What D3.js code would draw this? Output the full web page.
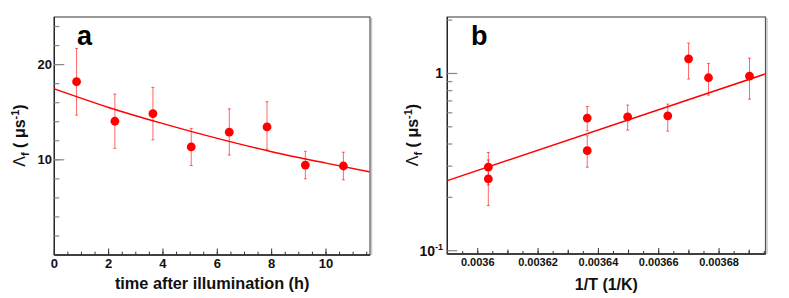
<!DOCTYPE html>
<html>
<head>
<meta charset="utf-8">
<script src="https://cdn.jsdelivr.net/npm/d3@7"></script>
<style>
  body { margin: 0; background: #fff; }
  svg { display: block; font-family: "Liberation Sans", Arial, sans-serif; }
</style>
</head>
<body>
<svg id="chart" width="789" height="298"></svg>
<script>
// panel a : decay after illumination
const timeA  = [0.82, 2.23, 3.63, 5.04, 6.44, 7.83, 9.24, 10.64];
const rateA  = [18.2, 14.05, 14.85, 11.35, 12.9, 13.45, 9.45, 9.35];
const hiA    = [21.7, 16.9, 17.6, 13.3, 15.35, 16.1, 10.9, 10.8];
const loA    = [14.7, 11.2, 12.1, 9.4, 10.5, 11.1, 8.0, 7.9];
const fitAX  = [0, 2, 4, 6, 8, 10, 11.6];
const fitAY  = [17.45, 15.5, 13.8, 12.25, 10.85, 9.65, 8.75];
const xTicksA = [0, 2, 4, 6, 8, 10];
const yTicksA = [10, 20];

// panel b : temperature dependence
const invT   = [0.0036035, 0.0036035, 0.0036363, 0.0036363, 0.0036497, 0.003663, 0.0036699, 0.0036765, 0.0036901];
const rateB  = [0.296, 0.254, 0.56, 0.367, 0.569, 0.577, 1.21, 0.946, 0.966];
const hiB    = [0.358, 0.325, 0.651, 0.445, 0.663, 0.672, 1.485, 1.14, 1.22];
const loB    = [0.235, 0.18, 0.475, 0.296, 0.479, 0.473, 0.93, 0.755, 0.716];
const fitBX  = [0.0035899, 0.0036954];
const fitBY  = [0.2486, 0.995];
const xTicksB = [0.0036, 0.00362, 0.00364, 0.00366, 0.00368];
const yTicksB = [0.1, 1];

const red = "#ff0000";
const svg = d3.select("#chart");

function frame(g, L, R, T, B) {
  // ROOT-like frame: grey top/right with a light shadow
  g.append("line").attr("x1", R + 1.5).attr("x2", R + 1.5).attr("y1", T + 1).attr("y2", B)
    .attr("stroke", "#c8c8c8").attr("stroke-width", 1.5);
  g.append("rect").attr("x", L).attr("y", T).attr("width", R - L).attr("height", B - T)
    .attr("fill", "none").attr("stroke", "#555").attr("stroke-width", 1.2);
  g.append("line").attr("x1", L).attr("x2", L).attr("y1", T).attr("y2", B).attr("stroke", "#222").attr("stroke-width", 1.3);
  g.append("line").attr("x1", L).attr("x2", R).attr("y1", B).attr("y2", B).attr("stroke", "#222").attr("stroke-width", 1.3);
}

function ticksX(g, x, vals, len, B) {
  g.selectAll(null).data(vals).enter().append("line")
    .attr("x1", d => x(d)).attr("x2", d => x(d))
    .attr("y1", B).attr("y2", B - len)
    .attr("stroke", "#333").attr("stroke-width", 1);
}

function ticksY(g, y, vals, len, L) {
  g.selectAll(null).data(vals).enter().append("line")
    .attr("x1", L).attr("x2", L + len)
    .attr("y1", d => y(d)).attr("y2", d => y(d))
    .attr("stroke", "#888").attr("stroke-width", 1.2);
}

function points(g, x, y, xs, ys, hi, lo) {
  const idx = d3.range(xs.length);
  g.selectAll(null).data(idx).enter().append("line")
    .attr("x1", i => x(xs[i])).attr("x2", i => x(xs[i]))
    .attr("y1", i => y(hi[i])).attr("y2", i => y(lo[i]))
    .attr("stroke", red).attr("stroke-opacity", 0.6).attr("stroke-width", 1);
  // small end caps
  [hi, lo].forEach(arr => {
    g.selectAll(null).data(idx).enter().append("line")
      .attr("x1", i => x(xs[i]) - 1.5).attr("x2", i => x(xs[i]) + 1.5)
      .attr("y1", i => y(arr[i])).attr("y2", i => y(arr[i]))
      .attr("stroke", red).attr("stroke-opacity", 0.6).attr("stroke-width", 1);
  });
  g.selectAll(null).data(idx).enter().append("circle")
    .attr("cx", i => x(xs[i])).attr("cy", i => y(ys[i]))
    .attr("r", 4.4).attr("fill", red);
}

function yTitle(g, xPos, yPos) {
  const t = g.append("text")
    .attr("transform", `translate(${xPos},${yPos}) rotate(-90)`)
    .attr("text-anchor", "middle")
    .attr("font-size", 16).attr("font-weight", "bold").attr("fill", "#111");
  t.append("tspan").attr("font-weight", "normal").text("Λ");
  t.append("tspan").attr("font-size", 11).attr("dy", 4).text("f");
  t.append("tspan").attr("dy", -4).text(" (  μs");
  t.append("tspan").attr("font-size", 11).attr("dy", -6).text("-1");
  t.append("tspan").attr("dy", 6).text(")");
}

// ---------- panel a ----------
{
  const L = 54.3, R = 370, T = 17, B = 255;
  const x = d3.scaleLinear().domain([0, 11.62]).range([L, R]);
  const y = d3.scaleLinear().domain([0, 25]).range([B, T]);
  const g = svg.append("g");

  frame(g, L, R, T, B);
  ticksX(g, x, d3.range(0.5, 11.6, 0.5), 3.3, B);
  ticksX(g, x, xTicksA, 6.5, B);
  ticksY(g, y, d3.range(2, 25, 2), 5, L);
  ticksY(g, y, yTicksA, 10, L);

  g.selectAll(null).data(xTicksA).enter().append("text")
    .attr("x", d => x(d)).attr("y", 267.5).attr("text-anchor", "middle")
    .attr("font-size", 13).attr("font-weight", "bold").attr("fill", "#111").text(d => d);
  g.selectAll(null).data(yTicksA).enter().append("text")
    .attr("x", 52).attr("y", d => y(d) + 4.6).attr("text-anchor", "end")
    .attr("font-size", 13).attr("font-weight", "bold").attr("fill", "#111").text(d => d);

  g.append("text").attr("x", (L + R) / 2).attr("y", 288.5).attr("text-anchor", "middle")
    .attr("font-size", 16.3).attr("font-weight", "bold").attr("fill", "#111")
    .text("time after illumination (h)");
  yTitle(g, 24.5, 135.5);

  g.append("path")
    .datum(d3.range(fitAX.length))
    .attr("d", d3.line().x(i => x(fitAX[i])).y(i => y(fitAY[i])).curve(d3.curveMonotoneX))
    .attr("fill", "none").attr("stroke", red).attr("stroke-width", 1.5);
  points(g, x, y, timeA, rateA, hiA, loA);

  g.append("text").attr("x", 77).attr("y", 44.5)
    .attr("font-size", 27).attr("font-weight", "bold").attr("fill", "#000").text("a");
}

// ---------- panel b ----------
{
  const L = 447.3, R = 765.5, T = 17, B = 254;
  const x = d3.scaleLinear().domain([0.0035899, 0.0036954]).range([L, R]);
  const y = d3.scaleLog().domain([0.0958, 2.083]).range([B, T]);
  const g = svg.append("g");

  frame(g, L, R, T, B);
  ticksX(g, x, d3.range(0.003590, 0.0036955, 0.000005).map(v => +v.toFixed(6)), 3, B);
  ticksX(g, x, d3.range(0.00361, 0.0036955, 0.00002).map(v => +v.toFixed(6)), 4.5, B);
  ticksX(g, x, xTicksB, 6, B);
  ticksY(g, y, [0.2, 0.3, 0.4, 0.5, 0.6, 0.7, 0.8, 0.9, 2], 5, L);
  ticksY(g, y, yTicksB, 10, L);

  g.selectAll(null).data(xTicksB).enter().append("text")
    .attr("x", d => x(d)).attr("y", 266).attr("text-anchor", "middle")
    .attr("font-size", 11).attr("font-weight", "bold").attr("fill", "#111").text(d => d);

  g.append("text").attr("x", 443).attr("y", y(1) + 5)
    .attr("text-anchor", "end").attr("font-size", 14).attr("font-weight", "bold").attr("fill", "#111").text("1");
  const t = g.append("text").attr("x", 443).attr("y", y(0.1) + 5)
    .attr("text-anchor", "end").attr("font-size", 14).attr("font-weight", "bold").attr("fill", "#111");
  t.append("tspan").text("10");
  t.append("tspan").attr("font-size", 9).attr("dy", -6).text("-1");

  g.append("text").attr("x", (L + R) / 2).attr("y", 289.5).attr("text-anchor", "middle")
    .attr("font-size", 16).attr("font-weight", "bold").attr("fill", "#111")
    .text("1/T (1/K)");
  yTitle(g, 417.5, 135);

  g.append("path")
    .datum(d3.range(fitBX.length))
    .attr("d", d3.line().x(i => x(fitBX[i])).y(i => y(fitBY[i])))
    .attr("fill", "none").attr("stroke", red).attr("stroke-width", 1.5);
  points(g, x, y, invT, rateB, hiB, loB);

  g.append("text").attr("x", 471).attr("y", 44.5)
    .attr("font-size", 27).attr("font-weight", "bold").attr("fill", "#000").text("b");
}
</script>
</body>
</html>
